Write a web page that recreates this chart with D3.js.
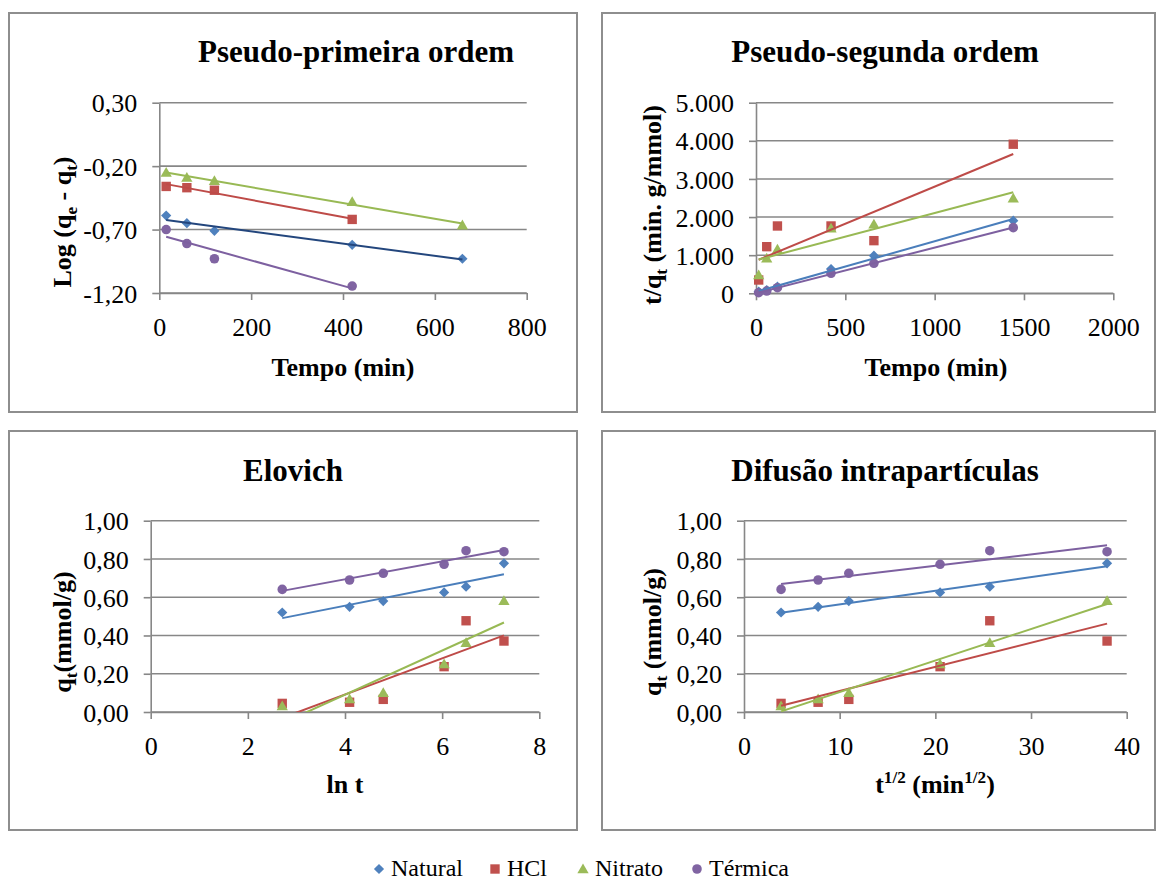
<!DOCTYPE html>
<html>
<head>
<meta charset="utf-8">
<script src="https://cdn.jsdelivr.net/npm/d3@7"></script>
<style>
  body { margin: 0; background: #fff; }
  #chart, #chart text, #chart tspan { font-family: "Liberation Serif", "DejaVu Serif", serif !important; }
</style>
</head>
<body>
<svg id="chart" width="1158" height="882" font-family="Liberation Serif"></svg>
<script>
// time points (min)
const times = [15, 60, 120, 420, 660, 1440];

const seriesNames = ["Natural", "HCl", "Nitrato", "Térmica"];
const markerColors = ["#4F81BD", "#C0504D", "#9BBB59", "#8064A2"];
const trendColors = ["#4A7EBB", "#BE4B48", "#98B954", "#7D60A0"];
const symbols = ["diamond", "square", "triangle", "circle"];

// Pseudo-primeira ordem: log(qe - qt)
const logNatural = [-0.59, -0.65, -0.71, -0.82, -0.93];
const logHCl = [-0.36, -0.37, -0.39, -0.62];
const logNitrato = [-0.25, -0.29, -0.315, -0.48, -0.665];
const logTermica = [-0.70, -0.81, -0.93, -1.145];

// Pseudo-segunda ordem: t/qt
const tqNatural = [42, 87, 175, 638, 987, 1906];
const tqHCl = [349, 1223, 1766, 1766, 1381, 3911];
const tqNitrato = [480, 919, 1155, 1706, 1811, 2493];
const tqTermica = [16, 60, 147, 525, 787, 1722];

// qt (mmol/g), used by Elovich and difusao
const qtNatural = [0.52, 0.55, 0.58, 0.625, 0.655, 0.777];
const qtHCl = [0.045, 0.051, 0.066, 0.237, 0.477, 0.371];
const qtNitrato = [0.031, 0.068, 0.101, 0.251, 0.362, 0.582];
const qtTermica = [0.641, 0.690, 0.725, 0.772, 0.843, 0.838];

// tick values
const ticksX1 = [0, 200, 400, 600, 800];
const ticksY1 = [-1.2, -0.7, -0.2, 0.3];
const ticksX2 = [0, 500, 1000, 1500, 2000];
const ticksY2 = [0, 1000, 2000, 3000, 4000, 5000];
const ticksX3 = [0, 2, 4, 6, 8];
const ticksX4 = [0, 10, 20, 30, 40];
const ticksYq = [0, 0.2, 0.4, 0.6, 0.8, 1.0];

const svg = d3.select("#chart");
const gridColor = "#878787";
const FONT = "Liberation Serif";

const ptBR = d3.formatLocale({decimal: ",", thousands: ".", grouping: [3], currency: ["", ""]});
const fmtComma2 = v => v.toFixed(2).replace(".", ",");
const fmtThousands = ptBR.format(",");

function fit(xs, ys) {
  const mx = d3.mean(xs), my = d3.mean(ys);
  let sxy = 0, sxx = 0;
  xs.forEach((x, i) => { sxy += (x - mx) * (ys[i] - my); sxx += (x - mx) * (x - mx); });
  const m = sxy / sxx;
  return {m: m, b: my - m * mx};
}

function symbolPath(kind) {
  if (kind === "diamond") return d3.symbol(d3.symbolSquare, 52)();
  if (kind === "square") return d3.symbol(d3.symbolSquare, 88)();
  if (kind === "triangle") return d3.symbol(d3.symbolTriangle, 55)();
  return d3.symbol(d3.symbolCircle, 72)();
}

function marker(g, kind, x, y, color) {
  g.append("path")
    .attr("d", symbolPath(kind))
    .attr("fill", color)
    .attr("transform", "translate(" + x + "," + y + ")" + (kind === "diamond" ? " rotate(45)" : "") + (kind === "triangle" ? " translate(0,1)" : ""));
}

// text with sub / superscript pieces
function richText(sel, parts, size) {
  let shift = 0;
  parts.forEach(p => {
    const off = p.sub ? size * 0.22 : (p.sup ? -size * 0.38 : 0);
    sel.append("tspan")
      .attr("dy", off - shift)
      .attr("font-size", (p.sub || p.sup) ? size * 0.66 : size)
      .text(p.t);
    shift = off;
  });
}

function drawPanel(cfg, idx) {
  const g = svg.append("g");

  g.append("rect")
    .attr("x", cfg.box[0]).attr("y", cfg.box[1])
    .attr("width", cfg.box[2] - cfg.box[0]).attr("height", cfg.box[3] - cfg.box[1])
    .attr("fill", "#fff").attr("stroke", "#8e8e8e").attr("stroke-width", 2);

  const x = d3.scaleLinear().domain(cfg.xDomain).range(cfg.xRange);
  const y = d3.scaleLinear().domain(cfg.yDomain).range(cfg.yRange);

  // gridlines
  g.append("g").selectAll("line")
    .data(cfg.yTicks)
    .join("line")
    .attr("x1", cfg.xRange[0]).attr("x2", cfg.xRange[1])
    .attr("y1", d => y(d)).attr("y2", d => y(d))
    .attr("stroke", gridColor).attr("stroke-width", 1.6);

  const yAxis = g.append("g")
    .attr("transform", "translate(" + cfg.xRange[0] + ",0)")
    .call(d3.axisLeft(y).tickValues(cfg.yTicks).tickFormat(cfg.yFormat).tickSizeInner(7).tickSizeOuter(0).tickPadding(15));
  const xAxis = g.append("g")
    .attr("transform", "translate(0," + cfg.yRange[0] + ")")
    .call(d3.axisBottom(x).tickValues(cfg.xTicks).tickFormat(cfg.xFormat).tickSizeInner(7).tickSizeOuter(0));

  [yAxis, xAxis].forEach(a => {
    a.attr("font-family", FONT).attr("font-size", 26);
    a.select(".domain").attr("stroke", gridColor).attr("stroke-width", 1.6);
    a.selectAll(".tick line").attr("stroke", gridColor).attr("stroke-width", 1.6);
    a.selectAll("text").attr("font-size", 26).attr("font-family", FONT).attr("fill", "#000");
  });
  xAxis.selectAll("text").attr("y", 34).attr("dy", "0.35em");
  yAxis.selectAll("text").attr("dy", "0.35em");

  // clip for trend lines
  const clipId = "clip" + idx;
  svg.append("clipPath").attr("id", clipId)
    .append("rect")
    .attr("x", cfg.xRange[0]).attr("y", cfg.yRange[1])
    .attr("width", cfg.xRange[1] - cfg.xRange[0]).attr("height", cfg.yRange[0] - cfg.yRange[1]);

  // markers
  cfg.series.forEach((s, i) => {
    s.ys.forEach((v, j) => marker(g, symbols[i], x(s.xs[j]), y(v), markerColors[i]));
  });

  // linear trend lines
  const trends = g.append("g").attr("clip-path", "url(#" + clipId + ")");
  cfg.series.forEach((s, i) => {
    const f = fit(s.xs, s.ys);
    const x0 = d3.min(s.xs), x1 = d3.max(s.xs);
    trends.append("line")
      .attr("x1", x(x0)).attr("y1", y(f.m * x0 + f.b))
      .attr("x2", x(x1)).attr("y2", y(f.m * x1 + f.b))
      .attr("stroke", (cfg.trendOverride && cfg.trendOverride[i]) || trendColors[i])
      .attr("stroke-width", 2);
  });

  // chart title
  g.append("text")
    .attr("x", cfg.title.x).attr("y", cfg.title.y)
    .attr("text-anchor", "middle")
    .attr("font-family", FONT)
    .attr("font-size", 31).attr("font-weight", "bold")
    .text(cfg.title.text);

  // x title
  const xt = g.append("text")
    .attr("x", cfg.xTitle.x).attr("y", cfg.xTitle.y)
    .attr("text-anchor", "middle")
    .attr("font-family", FONT)
    .attr("font-size", 26).attr("font-weight", "bold");
  richText(xt, cfg.xTitle.parts, 26);

  // y title
  const yt = g.append("text")
    .attr("transform", "translate(" + cfg.yTitle.x + "," + cfg.yTitle.y + ") rotate(-90)")
    .attr("text-anchor", "middle")
    .attr("font-family", FONT)
    .attr("font-size", 26).attr("font-weight", "bold");
  richText(yt, cfg.yTitle.parts, 26);
}

const lnTimes = times.map(t => Math.log(t));
const sqrtTimes = times.map(t => Math.sqrt(t));

const panels = [
  {
    box: [9, 13, 577, 412],
    xDomain: [0, 800], xRange: [159.3, 526.7],
    yDomain: [-1.2, 0.3], yRange: [293, 102.7],
    xTicks: ticksX1, yTicks: ticksY1,
    xFormat: d3.format("d"), yFormat: fmtComma2,
    series: [
      {xs: times.slice(0, 5), ys: logNatural},
      {xs: times.slice(0, 4), ys: logHCl},
      {xs: times.slice(0, 5), ys: logNitrato},
      {xs: times.slice(0, 4), ys: logTermica}
    ],
    trendOverride: ["#23467D"],
    title: {text: "Pseudo-primeira ordem", x: 356, y: 62},
    xTitle: {x: 343, y: 376, parts: [{t: "Tempo (min)"}]},
    yTitle: {x: 71, y: 222, parts: [{t: "Log (q"}, {t: "e", sub: true}, {t: " - q"}, {t: "t", sub: true}, {t: ")"}]}
  },
  {
    box: [602, 13, 1155, 412],
    xDomain: [0, 2000], xRange: [756, 1113.3],
    yDomain: [0, 5000], yRange: [293.3, 102.7],
    xTicks: ticksX2, yTicks: ticksY2,
    xFormat: d3.format("d"), yFormat: v => fmtThousands(v),
    series: [
      {xs: times, ys: tqNatural},
      {xs: times, ys: tqHCl},
      {xs: times, ys: tqNitrato},
      {xs: times, ys: tqTermica}
    ],
    title: {text: "Pseudo-segunda ordem", x: 885, y: 62},
    xTitle: {x: 936, y: 376, parts: [{t: "Tempo (min)"}]},
    yTitle: {x: 661, y: 205, parts: [{t: "t/q"}, {t: "t", sub: true}, {t: " (min. g/mmol)"}]}
  },
  {
    box: [9, 431, 577, 830],
    xDomain: [0, 8], xRange: [150.7, 539.3],
    yDomain: [0, 1], yRange: [712, 520.7],
    xTicks: ticksX3, yTicks: ticksYq,
    xFormat: d3.format("d"), yFormat: fmtComma2,
    series: [
      {xs: lnTimes, ys: qtNatural},
      {xs: lnTimes, ys: qtHCl},
      {xs: lnTimes, ys: qtNitrato},
      {xs: lnTimes, ys: qtTermica}
    ],
    title: {text: "Elovich", x: 293, y: 481},
    xTitle: {x: 345, y: 793, parts: [{t: "ln t"}]},
    yTitle: {x: 71, y: 632, parts: [{t: "q"}, {t: "t", sub: true}, {t: "(mmol/g)"}]}
  },
  {
    box: [602, 431, 1155, 830],
    xDomain: [0, 40], xRange: [744, 1126.7],
    yDomain: [0, 1], yRange: [712, 520.7],
    xTicks: ticksX4, yTicks: ticksYq,
    xFormat: d3.format("d"), yFormat: fmtComma2,
    series: [
      {xs: sqrtTimes, ys: qtNatural},
      {xs: sqrtTimes, ys: qtHCl},
      {xs: sqrtTimes, ys: qtNitrato},
      {xs: sqrtTimes, ys: qtTermica}
    ],
    title: {text: "Difusão intrapartículas", x: 885, y: 481},
    xTitle: {x: 935, y: 793, parts: [{t: "t"}, {t: "1/2", sup: true}, {t: " (min"}, {t: "1/2", sup: true}, {t: ")"}]},
    yTitle: {x: 661, y: 632, parts: [{t: "q"}, {t: "t", sub: true}, {t: " (mmol/g)"}]}
  }
];

panels.forEach((p, i) => drawPanel(p, i));

// legend
const legendX = [379, 495, 583, 697];
const legend = svg.append("g");
seriesNames.forEach((name, i) => {
  marker(legend, symbols[i], legendX[i], 869, markerColors[i]);
  legend.append("text")
    .attr("x", legendX[i] + 12).attr("y", 876)
    .attr("font-family", FONT)
    .attr("font-size", 24)
    .text(name);
});
</script>
</body>
</html>
